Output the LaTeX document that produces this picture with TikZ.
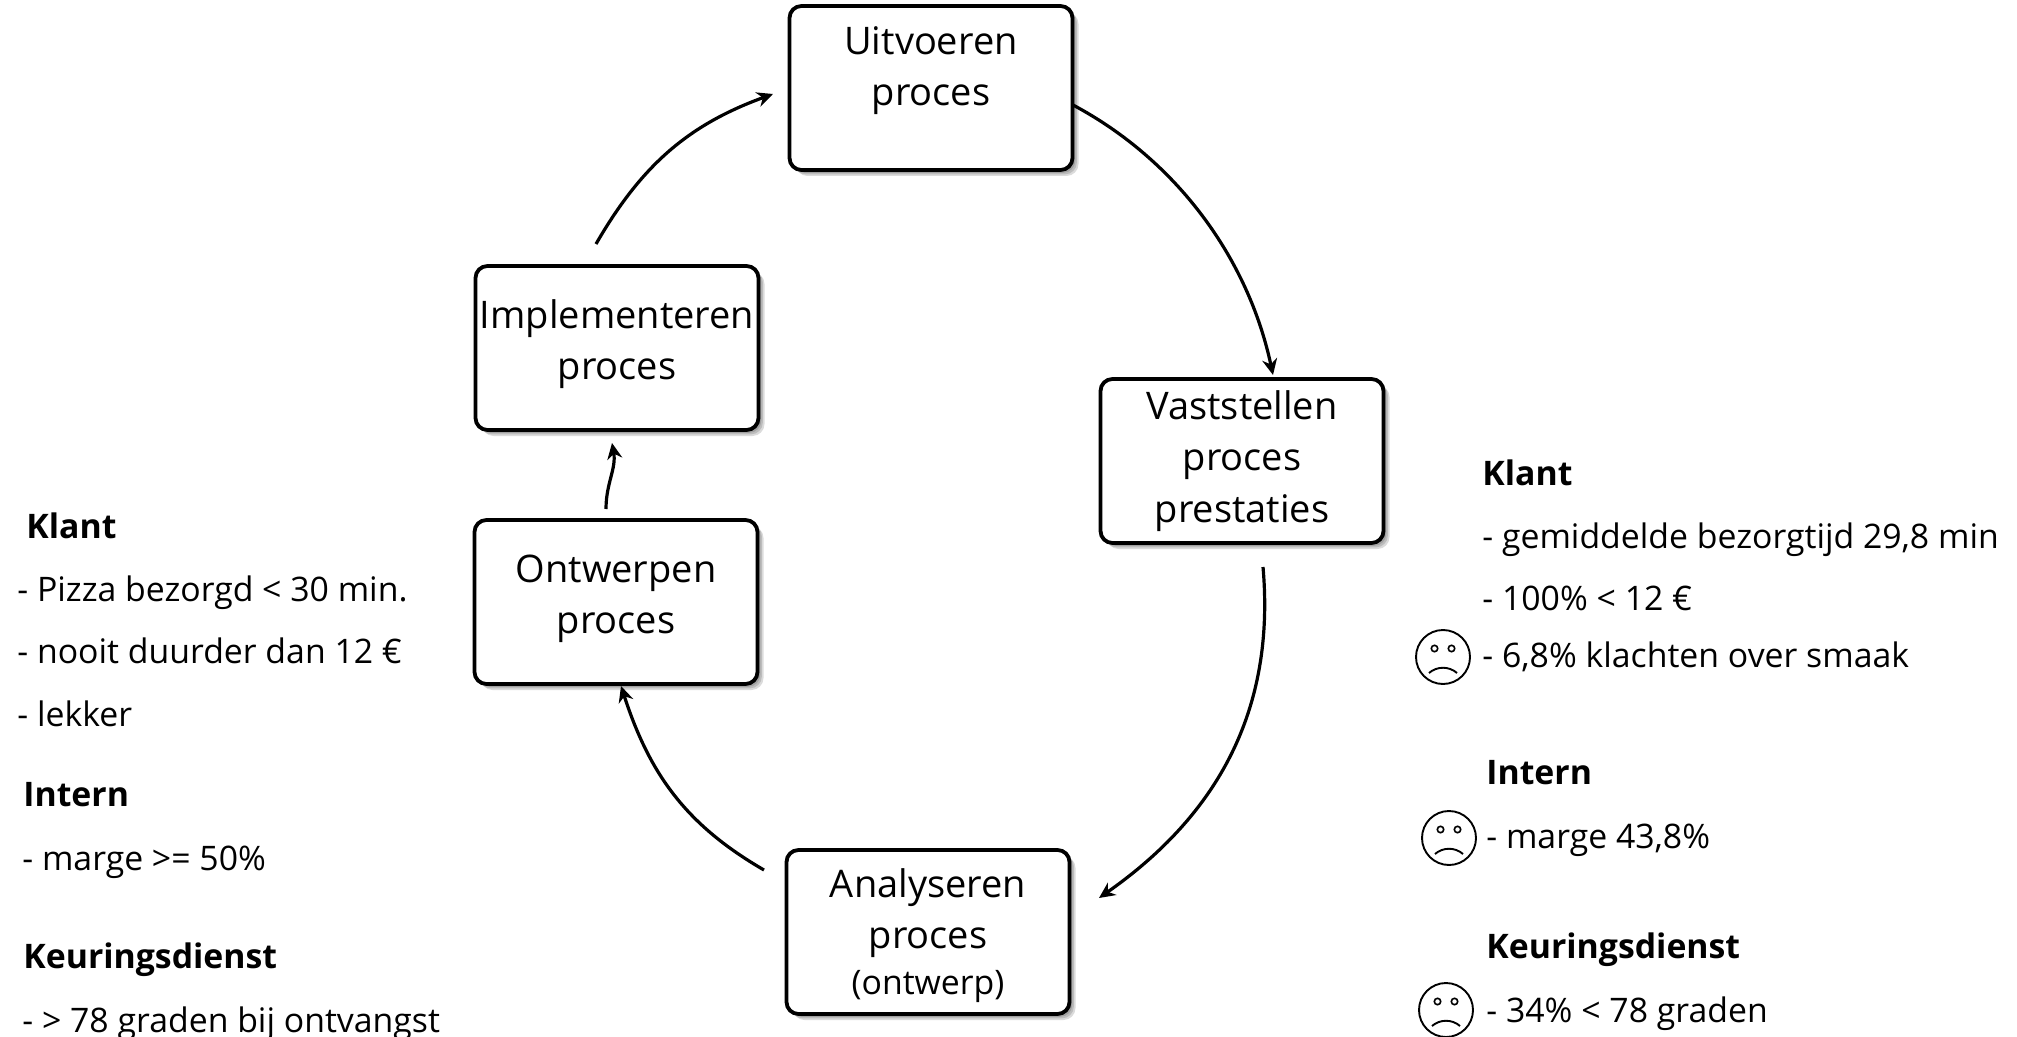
\documentclass[tikz,border=0pt]{standalone}
\usepackage{fontspec}
\setmainfont{Open Sans}
\usetikzlibrary{arrows.meta, shadows}

\tikzset{
  softshadow/.style={drop shadow={shadow xshift=#1, shadow yshift=-#1, opacity=0.14, fill=black}},
  procbox/.style={draw=black, line width=1.9pt, rounded corners=6pt, fill=white, align=center,
    minimum width=141.5pt, minimum height=82pt, inner sep=0pt, font=\fontsize{19}{25.7}\selectfont,
    softshadow=3pt, softshadow=2.2pt, softshadow=1.4pt},
  loopline/.style={line width=1.6pt, -{Stealth[length=8pt, width=7.5pt]}},
  kop/.style={anchor=west, inner sep=0pt, text height=13pt, text depth=1pt, font=\fontsize{16.9}{20}\selectfont\bfseries},
  regel/.style={anchor=west, inner sep=0pt, text height=13pt, text depth=1pt, font=\fontsize{16.9}{20}\selectfont},
  sadface/.pic={
    \draw[line width=0.95pt, fill=white] (0,0) circle [radius=27];
    \draw[line width=0.8pt] (-8.5,-8.5) circle [radius=3.2] (8.5,-8.5) circle [radius=3.2];
    \draw[line width=0.95pt] (-14,16) .. controls (-6,9) and (6,9) .. (14,16);
  }
}

\begin{document}
\begin{tikzpicture}[x=0.5pt, y=-0.5pt]
  \useasboundingbox (0,0) rectangle (2017,1037);
  \clip (0,0) rectangle (2017,1037);

  % process boxes
  \node[procbox] (uitvoeren) at (931,88) {Uitvoeren\\proces\\[-4pt]~};
  \node[procbox] (implementeren) at (617,348) {Implementeren\\proces\rule[-8.6pt]{0pt}{8.6pt}};
  \node[procbox] (vaststellen) at (1242,461) {Vaststellen\\proces\\prestaties};
  \node[procbox] (ontwerpen) at (616,602) {Ontwerpen\\proces\rule[-7.6pt]{0pt}{7.6pt}};
  \node[procbox] (analyseren) at (928,932) {\rule{0pt}{18pt}Analyseren\\proces\\[-2.5pt]{\fontsize{16.9}{20}\selectfont (ontwerp)}};

  % arrows round the cycle
  \coordinate (uitOut) at (1073,105);
  \coordinate (vastIn) at (1273,375);
  \coordinate (vastOut) at (1263,567);
  \coordinate (anaIn) at (1099,898);
  \coordinate (anaOut) at (764,870);
  \coordinate (ontIn) at (621,686);
  \coordinate (ontOut) at (606,509);
  \coordinate (impIn) at (612,443);
  \coordinate (impOut) at (596,244);
  \coordinate (uitIn) at (773,94);
  \draw[loopline] (uitOut) to[out=-28, in=102, looseness=0.9] (vastIn);
  \draw[loopline] (vastOut) to[out=-85, in=35] (anaIn);
  \draw[loopline] (anaOut) to[out=150, in=-72] (ontIn);
  \draw[loopline] (ontOut) to[out=90, in=-80] (impIn);
  \draw[loopline] (impOut) to[out=60, in=200] (uitIn);

  % text left
  \foreach \i/\x/\y/\txt in {
    kl/26/526/Klant, ik/23/794/Intern, kk/23/956/Keuringsdienst
  }{
    \node[kop] (left\i) at (\x,\y) {\txt};
  }
  \foreach \i/\x/\y/\txt in {
    a/17/589/- Pizza bezorgd < 30 min.,
    b/17/651/- nooit duurder dan 12 €,
    c/17/714/- lekker,
    d/22/858/- marge >= 50\%,
    e/22/1020/- > 78 graden bij ontvangst
  }{
    \node[regel] (left\i) at (\x,\y) {\txt};
  }

  % text right
  \foreach \i/\x/\y/\txt in {
    kl/1482/473/Klant, ik/1486/772/Intern, kk/1486/946/Keuringsdienst
  }{
    \node[kop] (right\i) at (\x,\y) {\txt};
  }
  \foreach \i/\x/\y/\txt in {
    a/1482/536/- gemiddelde bezorgtijd 29{,}8 min,
    b/1482/598/- 100\% < 12 €,
    c/1482/655/- 6{,}8\% klachten over smaak,
    d/1486/836/- marge 43{,}8\%,
    e/1486/1010/- 34\% < 78 graden
  }{
    \node[regel] (right\i) at (\x,\y) {\txt};
  }

  % faces
  \foreach \x/\y in {1443/657, 1449/838, 1446/1010}{
    \pic at (\x,\y) {sadface};
  }
\end{tikzpicture}
\end{document}
